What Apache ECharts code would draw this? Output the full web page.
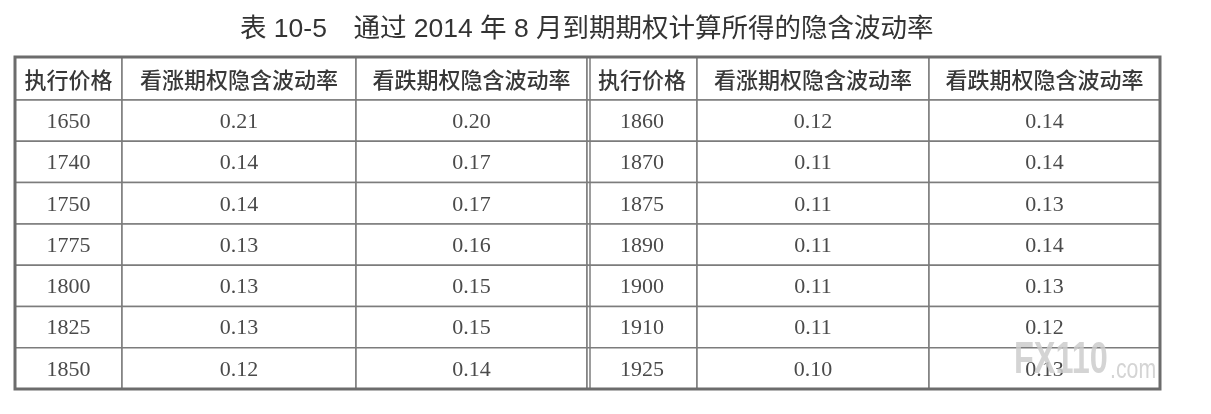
<!DOCTYPE html>
<html>
<head>
<meta charset="utf-8">
<script src="https://cdn.jsdelivr.net/npm/echarts@6/dist/echarts.min.js"></script>
<style>
html,body{margin:0;padding:0;background:#fff;}
#chart{width:1211px;height:414px;}
</style>
</head>
<body>
<div id="chart"></div>
<script>
// ---- data ----
const titleText = '表 10-5\u3000通过 2014 年 8 月到期期权计算所得的隐含波动率';
const headers = ['执行价格', '看涨期权隐含波动率', '看跌期权隐含波动率'];
const strikesLeft = [1650, 1740, 1750, 1775, 1800, 1825, 1850];
const callLeft = [0.21, 0.14, 0.14, 0.13, 0.13, 0.13, 0.12];
const putLeft = [0.20, 0.17, 0.17, 0.16, 0.15, 0.15, 0.14];
const strikesRight = [1860, 1870, 1875, 1890, 1900, 1910, 1925];
const callRight = [0.12, 0.11, 0.11, 0.11, 0.11, 0.11, 0.10];
const putRight = [0.14, 0.14, 0.13, 0.14, 0.13, 0.12, 0.13];

// ---- layout (table units) ----
const colEdges = [0, 107, 341, 572, 682, 914, 1145];
const headerH = 43, rowH = 41.3;
const rowTop = r => r === 0 ? 0 : headerH + (r - 1) * rowH;
const rowBot = r => headerH + r * rowH;
const tableH = rowBot(7);

// ---- build cells ----
const cells = [];
const allHeaders = headers.concat(headers);
allHeaders.forEach((h, c) => cells.push({ value: [c, 0], text: h, header: true }));
for (let i = 0; i < strikesLeft.length; i++) {
  const r = i + 1;
  cells.push({ value: [0, r], text: String(strikesLeft[i]) });
  cells.push({ value: [1, r], text: callLeft[i].toFixed(2) });
  cells.push({ value: [2, r], text: putLeft[i].toFixed(2) });
  cells.push({ value: [3, r], text: String(strikesRight[i]) });
  cells.push({ value: [4, r], text: callRight[i].toFixed(2) });
  cells.push({ value: [5, r], text: putRight[i].toFixed(2) });
}

const chart = echarts.init(document.getElementById('chart'), null, { renderer: 'canvas' });

const lineColor = '#7c7c7c';
const wmColor = 'rgba(205,205,205,0.85)';

chart.setOption({
  backgroundColor: '#ffffff',
  animation: false,
  grid: {
    left: 15, top: 57, width: 1145, height: tableH,
    show: true, borderColor: '#6c6c6c', borderWidth: 3, backgroundColor: 'transparent', z: 10
  },
  xAxis: { type: 'value', min: 0, max: 1145, show: false },
  yAxis: { type: 'value', min: 0, max: tableH, inverse: true, show: false },
  graphic: [
    {
      type: 'text', left: 240, top: 16, z: 20,
      style: {
        text: titleText, fill: '#333333',
        font: '26.5px "Liberation Sans", "Noto Sans CJK SC", sans-serif'
      }
    },
    { type: 'text', x: 1014, y: 361, scaleX: 0.72, z: 100, zlevel: 1,
      style: { text: 'FX110', x: 0, y: 0, verticalAlign: 'middle', fill: wmColor,
               font: 'bold 45px "Liberation Sans", sans-serif' } },
    { type: 'text', x: 1110, y: 370, scaleX: 0.76, z: 100, zlevel: 1,
      style: { text: '.com', x: 0, y: 0, verticalAlign: 'middle', fill: wmColor,
               font: '28px "Liberation Sans", sans-serif' } }
  ],
  series: [{
    type: 'custom',
    coordinateSystem: 'cartesian2d',
    data: cells,
    encode: { x: 0, y: 1 },
    renderItem: function (params, api) {
      const cell = cells[params.dataIndex];
      const c = api.value(0), r = api.value(1);
      const tl = api.coord([colEdges[c], rowTop(r)]);
      const br = api.coord([colEdges[c + 1], rowBot(r)]);
      const x = tl[0], y = tl[1], w = br[0] - tl[0], h = br[1] - tl[1];
      const children = [
        { type: 'rect', shape: { x: x, y: y, width: w, height: h },
          style: { fill: '#ffffff', stroke: lineColor, lineWidth: 1.5 } },
        { type: 'text', style: {
            text: cell.text, x: x + w / 2, y: y + h / 2 + 1.5,
            align: 'center', verticalAlign: 'middle',
            fill: cell.header ? '#383838' : '#4a4a4a',
            font: cell.header ? '500 22px "Noto Sans CJK SC", sans-serif' : '22px "Liberation Serif", serif'
          } }
      ];
      if (c === 3) {
        children.push({ type: 'line', shape: { x1: x + 3, y1: y, x2: x + 3, y2: y + h },
          style: { stroke: lineColor, lineWidth: 1.5 } });
      }
      return { type: 'group', children: children };
    }
  }]
});
</script>
</body>
</html>
